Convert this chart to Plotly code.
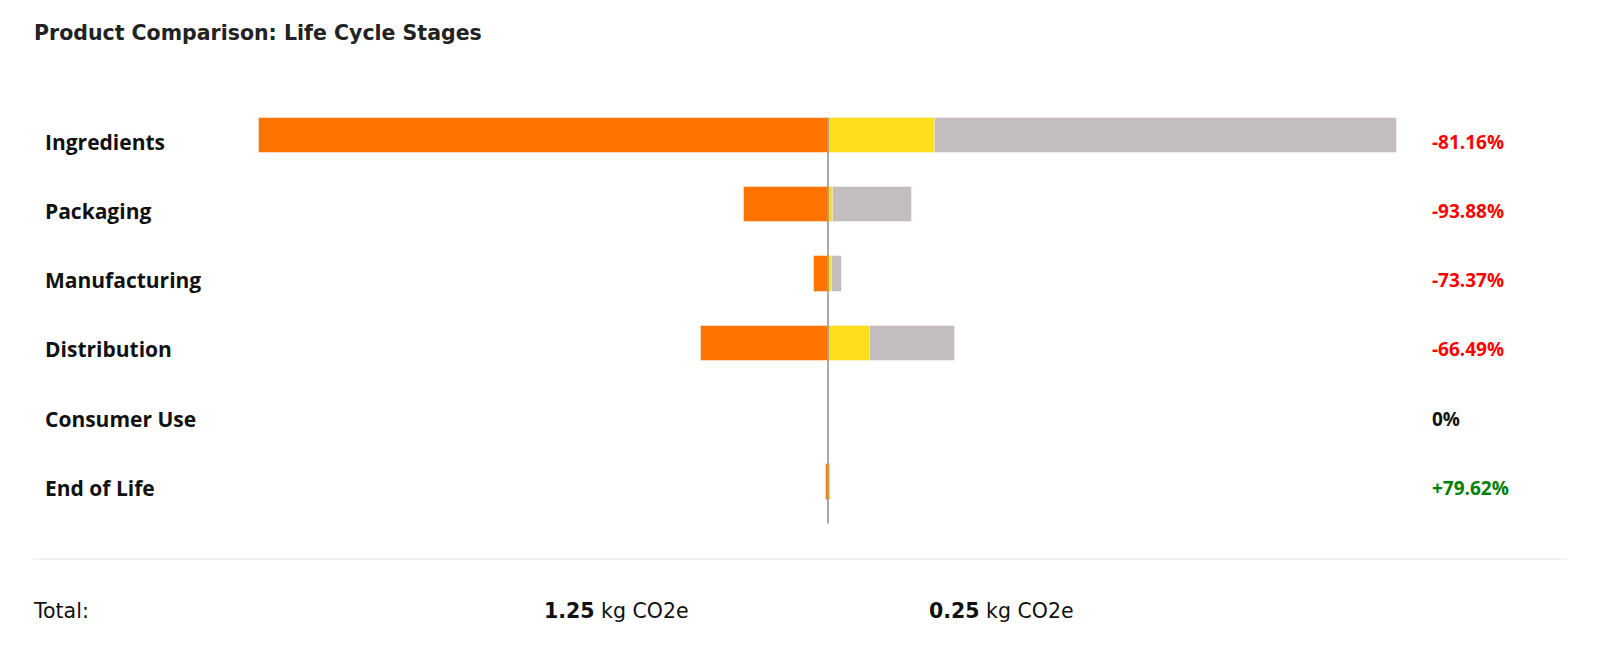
import plotly.graph_objects as go

# life cycle stages, kg CO2e per product
stages = ["Ingredients", "Packaging", "Manufacturing", "Distribution", "Consumer Use", "End of Life"]
product_a = [0.894, 0.132, 0.0225, 0.199, 0.0, 0.0027]
product_b = [0.1684, 0.0081, 0.0060, 0.0667, 0.0, 0.0048]
change_labels = ["-81.16%", "-93.88%", "-73.37%", "-66.49%", "0%", "+79.62%"]
totals = [1.25, 0.25]

ORANGE = "#ff7300"
YELLOW = "#ffdf1b"
GREY = "#c3bdbd"
FONT = "Open Sans"
FONT2 = "DejaVu Sans"
W, H = 1600, 672
CX = 820        # pixel of the zero line
SCALE = 636.0   # pixels per kg
ROW0, PITCH = 127.5, 69.3

def px_x(p):
  return p / W

def px_y(p):
  return 1 - p / H

edge = dict(color="rgba(255,255,255,0.45)", width=1)

fig = go.Figure()
fig.add_trace(go.Bar(y=stages, x=product_a, orientation="h", marker_color=GREY,
                     marker_line=edge, width=0.51, hoverinfo="skip"))
fig.add_trace(go.Bar(y=stages, x=product_b, orientation="h", marker_color=YELLOW,
                     marker_line=edge, width=0.51, hoverinfo="skip"))
fig.add_trace(go.Bar(y=stages, x=[-v for v in product_a], orientation="h", marker_color=ORANGE,
                     marker_line=edge, width=0.51, hoverinfo="skip"))

# centre line
fig.add_shape(type="line", x0=0, x1=0, y0=-0.255, y1=5.6, xref="x", yref="y",
              line=dict(color="#8c8c8c", width=1.5), layer="above")

# separator above totals
fig.add_shape(type="line", x0=px_x(25), x1=px_x(1559), y0=px_y(551), y1=px_y(551),
              xref="paper", yref="paper", line=dict(color="#ececec", width=1.5))

for i, s in enumerate(stages):
  fig.add_annotation(x=px_x(35), y=s, xref="paper", yref="y", text="<b>" + s + "</b>",
                     showarrow=False, xanchor="left", yanchor="middle", yshift=-6,
                     font=dict(family=FONT, size=21, color="#111111"))
  lab = change_labels[i]
  col = "#ff0000" if lab.startswith("-") else ("#008000" if lab.startswith("+") else "#111111")
  fig.add_annotation(x=px_x(1422), y=s, xref="paper", yref="y", text="<b>" + lab + "</b>",
                     showarrow=False, xanchor="left", yanchor="middle", yshift=-6,
                     font=dict(family=FONT, size=19, color=col))

fig.add_annotation(x=px_x(23), y=px_y(603), xref="paper", yref="paper", text="Total:",
                   showarrow=False, xanchor="left", yanchor="middle",
                   font=dict(family=FONT2, size=20.5, color="#111111"))
for t, xp in zip(totals, [534, 919]):
  fig.add_annotation(x=px_x(xp), y=px_y(603), xref="paper", yref="paper",
                     text="<b>%.2f</b> kg CO2e" % t,
                     showarrow=False, xanchor="left", yanchor="middle",
                     font=dict(family=FONT2, size=20.5, color="#111111"))

fig.update_layout(
  width=W, height=H,
  margin=dict(l=0, r=0, t=0, b=0),
  barmode="overlay",
  bargap=0,
  showlegend=False,
  plot_bgcolor="white",
  paper_bgcolor="white",
  font=dict(family=FONT),
  title=dict(text="Product Comparison: Life Cycle Stages", x=px_x(26), xanchor="left",
             y=px_y(25), yanchor="middle", yref="container",
             font=dict(family=FONT2, size=20.5, color="#222222", weight=600)),
  xaxis=dict(range=[-CX / SCALE, (W - CX) / SCALE], showgrid=False, zeroline=False,
             showticklabels=False, fixedrange=True),
  yaxis=dict(range=[(H - ROW0) / PITCH, -ROW0 / PITCH], showgrid=False, zeroline=False,
             showticklabels=False, fixedrange=True),
)

fig.write_html("out.html")
